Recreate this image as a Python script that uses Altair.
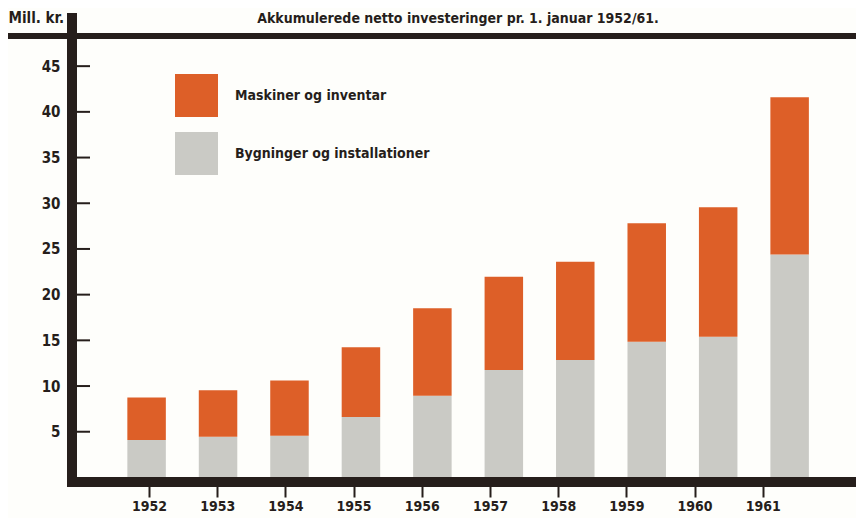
import altair as alt
import pandas as pd

# ---- data ----
years = [1952, 1953, 1954, 1955, 1956, 1957, 1958, 1959, 1960, 1961]
series_names = ["Maskiner og inventar", "Bygninger og installationer"]
maskiner = [4.65, 5.1, 6.05, 7.65, 9.55, 10.2, 10.75, 12.95, 14.15, 17.2]
bygninger = [4.1, 4.45, 4.55, 6.6, 8.95, 11.75, 12.85, 14.85, 15.4, 24.4]
y_ticks = [5, 10, 15, 20, 25, 30, 35, 40, 45]
title_text = "Akkumulerede netto investeringer pr. 1. januar 1952/61."
y_title = "Mill. kr."

ORANGE = "#dd5f28"
GRAY = "#cacac5"
DARK = "#261e1b"
FONT = "Liberation Sans Narrow, DejaVu Sans Condensed, Arial Narrow, Roboto, sans-serif"

rows = []
for i, yr in enumerate(years):
    rows.append({"year": yr, "serie": series_names[1], "value": bygninger[i], "ord": 0})
    rows.append({"year": yr, "serie": series_names[0], "value": maskiner[i], "ord": 1})
df = pd.DataFrame(rows)

W, H = 784, 446
yscale = alt.Scale(domain=[-0.5, 48.3], nice=False, zero=False)
yaxis = alt.Axis(values=y_ticks, domain=False, ticks=False, grid=False,
                 labelFont=FONT, labelFontSize=15, labelFontWeight="bold",
                 labelColor=DARK, labelPadding=12,
                 title=y_title, titleAngle=0, titleX=-64, titleY=-14,
                 titleAlign="left", titleBaseline="alphabetic",
                 titleFont=FONT, titleFontSize=15, titleFontWeight="bold",
                 titleColor=DARK)

bars = alt.Chart(df).mark_bar(size=38.5).encode(
    x=alt.X("year:Q", scale=alt.Scale(domain=[1951.026, 1961.859], nice=False, zero=False), axis=None),
    y=alt.Y("value:Q", stack="zero", scale=yscale, axis=yaxis),
    color=alt.Color("serie:N", scale=alt.Scale(domain=series_names, range=[ORANGE, GRAY]),
                    legend=alt.Legend(title=None, orient="none", legendX=103, legendY=38,
                                      symbolType="square", symbolSize=1849,
                                      symbolStrokeWidth=0, symbolOpacity=1,
                                      labelFont=FONT, labelFontSize=14,
                                      labelFontWeight="bold", labelColor=DARK,
                                      labelOffset=17, rowPadding=15, padding=0,
                                      labelLimit=400)),
    order=alt.Order("ord:Q", sort="ascending"),
)

xaxis_layer = alt.Chart(pd.DataFrame({"year": years})).mark_point(opacity=0).encode(
    x=alt.X("year:Q", scale=alt.Scale(domain=[1950.871, 1962.367], nice=False, zero=False),
            axis=alt.Axis(orient="bottom", values=years, format="d", title=None, grid=False,
                          domain=False, tickSize=15, tickWidth=2,
                          tickColor=DARK, labelFont=FONT, labelFontSize=14,
                          labelFontWeight="bold", labelColor=DARK, labelPadding=2)),
    y=alt.value(0),
)

ytick_rules = alt.Chart(pd.DataFrame({"v": y_ticks})).mark_rule(strokeWidth=2, color=DARK).encode(
    y=alt.Y("v:Q", scale=yscale, axis=yaxis),
    x=alt.value(5), x2=alt.value(18),
)

one = pd.DataFrame({"k": [0]})
vline = alt.Chart(one).mark_rule(strokeWidth=10, color=DARK, strokeCap="butt").encode(
    x=alt.value(0), y=alt.value(-23), y2=alt.value(451))
hline = alt.Chart(one).mark_rule(strokeWidth=6, color=DARK, strokeCap="butt").encode(
    x=alt.value(-69), x2=alt.value(800), y=alt.value(0))
bline = alt.Chart(one).mark_rule(strokeWidth=10, color=DARK, strokeCap="butt").encode(
    x=alt.value(-5), x2=alt.value(800), y=alt.value(H))

title = alt.Chart(pd.DataFrame({"t": [title_text]})).mark_text(
    font=FONT, fontSize=14, fontWeight="bold", color=DARK, align="center",
    baseline="alphabetic").encode(x=alt.value(386), y=alt.value(-13), text="t:N")

chart = alt.layer(bars, xaxis_layer, ytick_rules, vline, hline, bline, title).resolve_scale(
    x="independent"
).properties(
    width=W, height=H, autosize="none",
    padding={"left": 64, "top": 28, "right": 0, "bottom": 36},
    background="#fefefb",
).configure_view(stroke=None)

chart.save("out.html", embed_options={"renderer": "svg", "actions": False})
